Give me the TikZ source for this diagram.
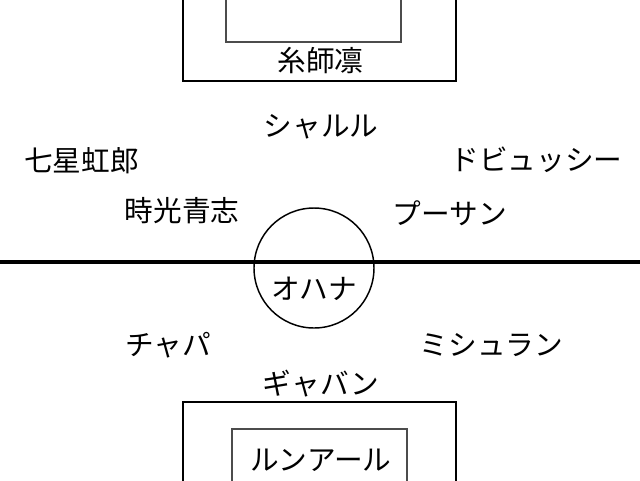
\documentclass[tikz,border=0pt]{standalone}
\usepackage{fontspec}
\setmainfont{Noto Sans CJK JP}
\usepackage{tikz}

\begin{document}
\begin{tikzpicture}[x=0.75pt, y=-0.75pt,
		player/.style={font=\fontsize{21.5}{25}\selectfont, inner sep=0pt},
		outerbox/.style={line width=1.5pt},
		innerbox/.style={line width=1.1pt, black!70}]
		\useasboundingbox (0,0) rectangle (640,480);
		\clip (0,0) rectangle (640,480);
		% поле
		\draw [line width=2.6pt] (-5,262) -- (645,262);
		\draw [line width=1.1pt] (314,268) circle [radius=45pt];
		% ворота
		\draw [outerbox] (183,-10) rectangle (456,81);
		\draw [innerbox] (226,-10) rectangle (401,42);
		\draw [outerbox] (183,490) rectangle (456,402);
		\draw [innerbox] (232,490) rectangle (407,429);
		% игроки
		\node [player] (rin) at (320.5,60) {糸師凛};
		\node [player] (charles) at (321,127) {シャルル};
		\node [player] (nanase) at (81.5,161) {七星虹郎};
		\node [player] (debussy) at (536.5,160) {ドビュッシー};
		\node [player] (tokimitsu) at (182,211) {時光青志};
		\node [player] (poussin) at (450,213) {プーサン};
		\node [player] (ohana) at (314,289) {オハナ};
		\node [player] (chapa) at (168,345) {チャパ};
		\node [player] (michelin) at (491.5,345) {ミシュラン};
		\node [player] (gavin) at (321,384) {ギャバン};
		\node [player] (lunar) at (321,460) {ルンアール};
\end{tikzpicture}
\end{document}
